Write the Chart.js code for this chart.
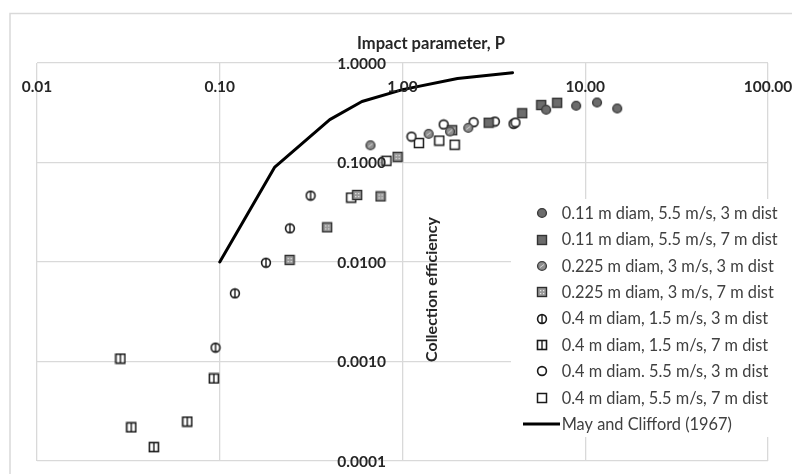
<!DOCTYPE html>
<html><head><meta charset="utf-8">
<script src="https://cdn.jsdelivr.net/npm/chart.js@4.4.1/dist/chart.umd.min.js"></script>
<style>html,body{margin:0;padding:0;background:#fff}#wrap{width:792px;height:474px;position:relative}</style>
</head><body><div id="wrap"><canvas id="c" width="792" height="474"></canvas></div>
<script>
// ---------- DATA ----------
const xTicks = [0.01, 0.1, 1, 10, 100];
const xTickLabels = ['0.01', '0.10', '1.00', '10.00', '100.00'];
const yTicks = [0.0001, 0.001, 0.01, 0.1, 1];
const yTickLabels = ['0.0001', '0.0010', '0.0100', '0.1000', '1.0000'];
const xTitle = 'Impact parameter, P';
const yTitle = 'Collection efficiency';

const seriesNames = [
  '0.11 m diam, 5.5 m/s, 3 m dist',
  '0.11 m diam, 5.5 m/s, 7 m dist',
  '0.225 m diam, 3 m/s, 3 m dist',
  '0.225 m diam, 3 m/s, 7 m dist',
  '0.4 m diam, 1.5 m/s, 3 m dist',
  '0.4 m diam, 1.5 m/s, 7 m dist',
  '0.4 m diam. 5.5 m/s, 3 m dist',
  '0.4 m diam, 5.5 m/s, 7 m dist',
  'May and Clifford (1967)'
];

const s1P = [6.11, 8.92, 11.6, 14.96];
const s1E = [0.339, 0.372, 0.401, 0.349];
const s2P = [2.96, 4.52, 5.74, 7.02];
const s2E = [0.251, 0.313, 0.378, 0.398];
const s3P = [0.668, 1.39, 1.82, 2.29];
const s3E = [0.149, 0.194, 0.205, 0.223];
const s4P = [0.241, 0.387, 0.565, 0.758, 0.94, 1.87];
const s4E = [0.0105, 0.0223, 0.0472, 0.0456, 0.114, 0.211];
const s5P = [0.0948, 0.121, 0.179, 0.242, 0.314];
const s5E = [0.00138, 0.00484, 0.00984, 0.0218, 0.0465];
const s6P = [0.0286, 0.0328, 0.0436, 0.0664, 0.0928];
const s6E = [0.00107, 0.000218, 0.000138, 0.000249, 0.000675];
const s7P = [1.12, 1.68, 2.45, 3.20, 4.05, 4.15];
const s7E = [0.182, 0.241, 0.254, 0.258, 0.245, 0.252];
const s8P = [0.524, 0.817, 1.23, 1.59, 1.93];
const s8E = [0.0444, 0.104, 0.157, 0.166, 0.151];
const mcP = [0.1, 0.2, 0.4, 0.6, 1.0, 2.0, 4.0];
const mcE = [0.01, 0.09, 0.27, 0.41, 0.54, 0.70, 0.80];

// ---------- MARKERS ----------
function mk(w, h, fn) {
  const c = document.createElement('canvas');
  c.width = w; c.height = h;
  fn(c.getContext('2d'), w, h);
  return c;
}
function circ(ctx, fill, stroke, lw) {
  ctx.beginPath(); ctx.arc(6, 6, 4.4, 0, Math.PI * 2);
  ctx.fillStyle = fill; ctx.fill();
  ctx.lineWidth = lw; ctx.strokeStyle = stroke; ctx.stroke();
}
function sq(ctx, fill, stroke, lw) {
  ctx.fillStyle = fill; ctx.fillRect(1.5, 1.5, 9, 9);
  ctx.lineWidth = lw; ctx.strokeStyle = stroke; ctx.strokeRect(1.5, 1.5, 9, 9);
}
const m1 = mk(12, 12, ctx => circ(ctx, '#6c6c6c', '#3a3a3a', 1.4));
const m2 = mk(12, 12, ctx => sq(ctx, '#6c6c6c', '#333333', 1.4));
const m3 = mk(12, 12, ctx => {
  circ(ctx, '#8e8e8e', '#404040', 1.4);
  ctx.strokeStyle = '#d8d8d8'; ctx.lineWidth = 1;
  ctx.beginPath(); ctx.moveTo(4, 7.5); ctx.lineTo(8, 4.5); ctx.stroke();
});
const m4 = mk(12, 12, ctx => {
  sq(ctx, '#9a9a9a', '#2e2e2e', 1.4);
  ctx.fillStyle = '#e8e8e8';
  [[4, 4], [7, 4], [4, 7], [7, 7]].forEach(p => ctx.fillRect(p[0], p[1], 1.2, 1.2));
});
const m5 = mk(12, 12, ctx => {
  circ(ctx, '#ffffff', '#1a1a1a', 1.6);
  ctx.strokeStyle = '#1a1a1a'; ctx.lineWidth = 1.4;
  ctx.beginPath(); ctx.moveTo(6, 1.8); ctx.lineTo(6, 10.2); ctx.stroke();
});
const m6 = mk(12, 12, ctx => {
  sq(ctx, '#ffffff', '#1a1a1a', 1.6);
  ctx.strokeStyle = '#1a1a1a'; ctx.lineWidth = 1.4;
  ctx.beginPath(); ctx.moveTo(6, 1.5); ctx.lineTo(6, 10.5); ctx.stroke();
});
const m7 = mk(12, 12, ctx => circ(ctx, '#ffffff', '#1a1a1a', 1.6));
const m8 = mk(12, 12, ctx => sq(ctx, '#ffffff', '#1a1a1a', 1.5));

const pts = (xs, ys) => xs.map((x, i) => ({ x: x, y: ys[i] }));
function ds(label, xs, ys, marker) {
  return { label, data: pts(xs, ys), pointStyle: marker, pointRadius: 6, showLine: false, order: 2 };
}

const datasets = [
  ds(seriesNames[0], s1P, s1E, m1),
  ds(seriesNames[1], s2P, s2E, m2),
  ds(seriesNames[2], s3P, s3E, m3),
  ds(seriesNames[3], s4P, s4E, m4),
  ds(seriesNames[4], s5P, s5E, m5),
  ds(seriesNames[5], s6P, s6E, m6),
  ds(seriesNames[6], s7P, s7E, m7),
  ds(seriesNames[7], s8P, s8E, m8),
  { label: seriesNames[8], data: pts(mcP, mcE), showLine: true, borderColor: '#000000',
    borderWidth: 3, pointRadius: 0, tension: 0, order: 1, borderJoinStyle: 'round', borderCapStyle: 'round' }
];
const markers = [m1, m2, m3, m4, m5, m6, m7, m8];

// ---------- TEXT / LEGEND PLUGIN ----------
const FAM = 'Lato, "Open Sans", sans-serif';
function fit(ctx, text, weight, target) {
  ctx.font = weight + ' 100px ' + FAM;
  return 100 * target / ctx.measureText(text).width;
}
const deco = {
  id: 'deco',
  beforeDraw(chart) {
    const ctx = chart.ctx;
    ctx.save();
    ctx.fillStyle = '#fff'; ctx.fillRect(0, 0, chart.width, chart.height);
    ctx.strokeStyle = '#d9d9d9'; ctx.lineWidth = 1.5;
    ctx.beginPath(); ctx.moveTo(10, 474); ctx.lineTo(10, 13.5); ctx.lineTo(792, 13.5); ctx.stroke();
    ctx.restore();
  },
  afterDraw(chart) {
    const ctx = chart.ctx, xs = chart.scales.x, ys = chart.scales.y;
    ctx.save();
    // legend box
    ctx.fillStyle = '#ffffff';
    ctx.fillRect(511, 199, 274, 238);
    const lx = 541.7, tx = 561.7, ly0 = 213.3, dy = 26.35;
    const lsize = fit(ctx, seriesNames[0], 'normal', 216);
    ctx.font = 'normal ' + lsize.toFixed(2) + 'px ' + FAM;
    ctx.fillStyle = '#404040'; ctx.textAlign = 'left'; ctx.textBaseline = 'middle';
    chart.data.datasets.forEach((d, i) => {
      const y = ly0 + i * dy;
      if (i < markers.length) {
        ctx.drawImage(markers[i], Math.round(lx - 6), Math.round(y - 6));
      } else {
        ctx.strokeStyle = '#000'; ctx.lineWidth = 3;
        ctx.beginPath(); ctx.moveTo(523, y); ctx.lineTo(560, y); ctx.stroke();
      }
      ctx.fillText(d.label, tx, y + 0.5);
    });
    // x tick labels
    const xsz = fit(ctx, '0.01', 'bold', 30.6);
    ctx.font = 'bold ' + xsz.toFixed(2) + 'px ' + FAM;
    ctx.fillStyle = '#262626'; ctx.textAlign = 'center';
    xTicks.forEach((v, i) => ctx.fillText(xTickLabels[i], xs.getPixelForValue(v), 87.5));
    // y tick labels at x = 1 crossing
    const ysz = fit(ctx, '1.0000', 'bold', 48.7);
    ctx.font = 'bold ' + ysz.toFixed(2) + 'px ' + FAM;
    ctx.textAlign = 'right';
    const xc = xs.getPixelForValue(1) - 16.5;
    yTicks.forEach((v, i) => ctx.fillText(yTickLabels[i], xc, ys.getPixelForValue(v) + 0.5));
    // titles
    const tsz = fit(ctx, xTitle, 'bold', 148);
    ctx.font = 'bold ' + tsz.toFixed(2) + 'px ' + FAM;
    ctx.textAlign = 'center';
    ctx.fillText(xTitle, 431, 43.5);
    const ysz2 = fit(ctx, yTitle, 'bold', 145);
    ctx.font = 'bold ' + ysz2.toFixed(2) + 'px ' + FAM;
    ctx.translate(432, 289.5); ctx.rotate(-Math.PI / 2);
    ctx.fillText(yTitle, 0, 0);
    ctx.restore();
  }
};

new Chart(document.getElementById('c'), {
  type: 'scatter',
  data: { datasets },
  plugins: [deco],
  options: {
    responsive: false, animation: false, devicePixelRatio: 1,
    layout: { padding: { left: 37, top: 63, right: 24, bottom: 13 } },
    plugins: { legend: { display: false }, tooltip: { enabled: false }, title: { display: false } },
    scales: {
      x: {
        type: 'logarithmic', position: 'top', min: 0.01, max: 100,
        afterBuildTicks: s => { s.ticks = xTicks.map(v => ({ value: v })); },
        afterFit: s => { s.height = 0; },
        ticks: { display: false },
        grid: { color: '#d9d9d9', lineWidth: 1.3, drawTicks: false },
        border: { display: false }
      },
      y: {
        type: 'logarithmic', position: 'left', min: 0.0001, max: 1,
        afterBuildTicks: s => { s.ticks = yTicks.map(v => ({ value: v })); },
        afterFit: s => { s.width = 0; },
        ticks: { display: false },
        grid: { color: '#d9d9d9', lineWidth: 1.3, drawTicks: false },
        border: { display: false }
      }
    }
  }
});
</script></body></html>
